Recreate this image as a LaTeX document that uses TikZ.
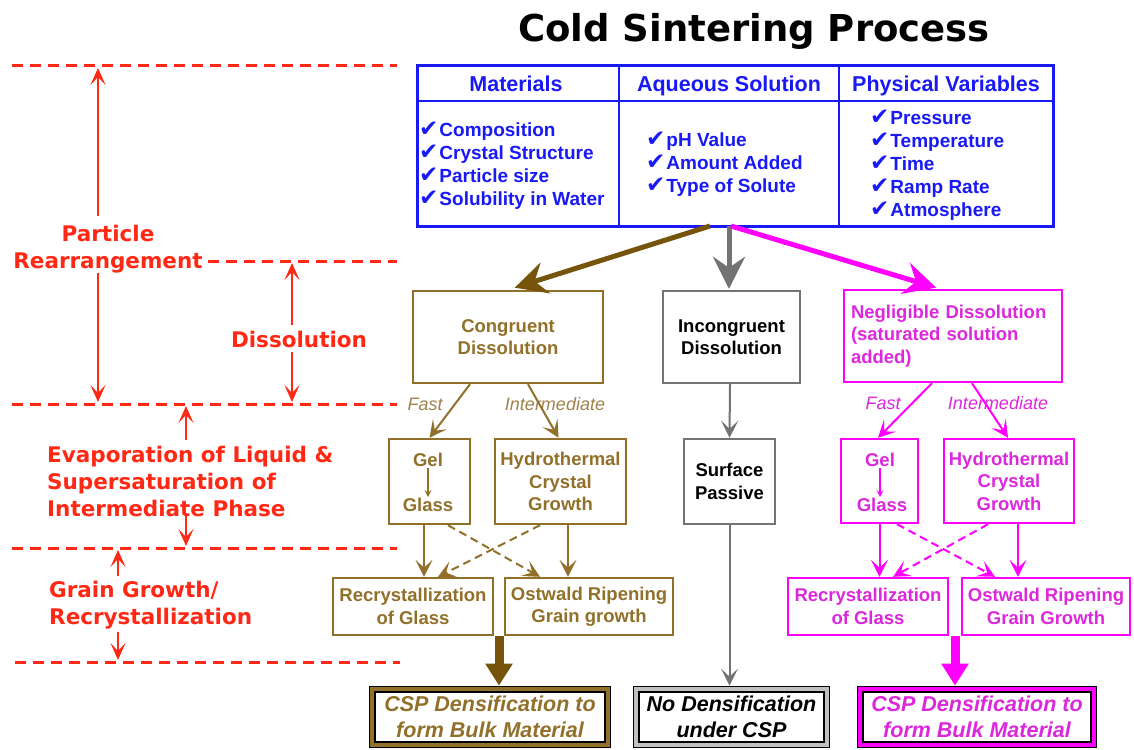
\documentclass[tikz,border=0pt]{standalone}
\usepackage{fontspec}
\setmainfont{Liberation Sans}
\newfontfamily\djv{DejaVu Sans}
\usetikzlibrary{arrows.meta,calc}
\definecolor{brn}{RGB}{145,112,42}
\definecolor{dbrn}{RGB}{118,84,12}
\definecolor{lbrn}{RGB}{160,130,75}
\definecolor{mag}{RGB}{255,0,255}
\definecolor{magt}{RGB}{220,40,220}
\definecolor{gry}{RGB}{115,115,115}
\definecolor{blu}{RGB}{25,25,245}
\definecolor{rd}{RGB}{255,40,20}
\newcommand\ck{{\djv\fontsize{23}{19}\selectfont ✔}\hspace{1pt}}
\begin{document}
\begin{tikzpicture}[x=1pt,y=-1pt,
 rdash/.style={rd, line width=3, dash pattern=on 11pt off 7pt},
 rarr/.style={rd, line width=2, -{Stealth[length=17pt,width=15pt,inset=8pt]}},
 rlab/.style={text=rd, font=\djv\bfseries\fontsize{21.5}{27}\selectfont, inner sep=0},
 fbox/.style={draw=#1, line width=2.4, rectangle, inner sep=0, align=center},
 btxt/.style={font=\bfseries\fontsize{18.5}{22.5}\selectfont},
 farr/.style={#1, line width=2, -{Stealth[length=17pt,width=17pt,inset=8pt]}},
 fdash/.style={#1, line width=2, dash pattern=on 8pt off 5pt, -{Stealth[length=17pt,width=17pt,inset=8pt]}},
 big/.style={#1, line width=5, -{Stealth[length=32pt,width=32pt,inset=11pt]}},
 bigv/.style={#1, line width=9, -{Triangle[length=22pt,width=26pt]}},
 fin/.style={draw=black, double=#1, double distance=4.5pt, line width=1.1, rectangle, inner sep=0, align=center, font=\bfseries\itshape\fontsize{21.5}{26}\selectfont},
 lab/.style={font=\itshape\fontsize{18}{18}\selectfont, inner sep=0, anchor=base},
 hdr/.style={text=blu, font=\bfseries\fontsize{21.5}{21.5}\selectfont, inner sep=0, anchor=base},
 itm/.style={text=blu, font=\bfseries\fontsize{19}{23}\selectfont, inner sep=0, anchor=west, align=left},
]
\useasboundingbox (0,0) rectangle (1134,749);
\fill[white] (0,0) rectangle (1134,749);

% title
\node[font=\djv\bfseries\fontsize{37}{37}\selectfont, anchor=base, inner sep=0] (title) at (754,42) {Cold Sintering Process};

% red dashed level lines
\coordinate (l1a) at (12,66);  \coordinate (l1b) at (397,66);
\coordinate (l2a) at (208,261); \coordinate (l2b) at (397,261);
\coordinate (l3a) at (12,404); \coordinate (l3b) at (397,404);
\coordinate (l4a) at (12,548); \coordinate (l4b) at (397,548);
\coordinate (l5a) at (15,662); \coordinate (l5b) at (400,662);
\foreach \a/\b in {l1a/l1b,l2a/l2b,l3a/l3b,l4a/l4b,l5a/l5b} \draw[rdash] (\a) -- (\b);

% red labels
\node[rlab, align=center] (pr) at (108,249) {Particle\\Rearrangement};
\node[rlab] (dis) at (299,339) {Dissolution};
\node[rlab, align=left, anchor=west] (evap) at (47,481) {Evaporation of Liquid \&\\Supersaturation of\\Intermediate Phase};
\node[rlab, align=left, anchor=west] (grain) at (49,605.5) {Grain Growth/\\Recrystallization};

% red arrows
\coordinate (pa1) at (98,216); \coordinate (pa2) at (98,68);
\coordinate (pb1) at (98,273); \coordinate (pb2) at (98,402);
\coordinate (da1) at (292,325); \coordinate (da2) at (292,263);
\coordinate (db1) at (292,352); \coordinate (db2) at (292,402);
\coordinate (ea1) at (186,440); \coordinate (ea2) at (186,406);
\coordinate (eb1) at (186,514); \coordinate (eb2) at (186,546);
\coordinate (ga1) at (118,576); \coordinate (ga2) at (118,550);
\coordinate (gb1) at (118,632); \coordinate (gb2) at (118,660);
\foreach \a/\b in {pa1/pa2,pb1/pb2,da1/da2,db1/db2,ea1/ea2,eb1/eb2,ga1/ga2,gb1/gb2} \draw[rarr] (\a) -- (\b);

% table
\node[draw=blu, line width=3, minimum width=636, minimum height=161, inner sep=0, anchor=north west] (tab) at (416,64) {};
\draw[blu, line width=2.5] (416,101) -- (1052,101) (619,64) -- (619,225) (839,64) -- (839,225);
\node[hdr] (h1) at (516,91.7) {Materials};
\node[hdr] (h2) at (729,91.7) {Aqueous Solution};
\node[hdr] (h3) at (946,91.7) {Physical Variables};
\node[itm] (i1) at (419,165.5) {\ck Composition\\\ck Crystal Structure\\\ck Particle size\\\ck Solubility in Water};
\node[itm] (i2) at (646,164) {\ck pH Value\\\ck Amount Added\\\ck Type of Solute};
\node[itm] (i3) at (870,165) {\ck Pressure\\\ck Temperature\\\ck Time\\\ck Ramp Rate\\\ck Atmosphere};

% second level boxes
\node[fbox=brn, minimum width=190, minimum height=92, text=brn, btxt] (cong) at (508,337) {Congruent\\Dissolution};
\node[fbox=gry, minimum width=137, minimum height=92, text=black, btxt] (inc) at (731.5,337) {Incongruent\\Dissolution};
\node[fbox=mag, minimum width=218, minimum height=92, text=magt, btxt, text width=204, align=left] (neg) at (953,336) {Negligible Dissolution\\(saturated solution\\added)};

% arrows from table
\coordinate (tb) at (710,226);
\coordinate (tg) at (729,226);
\coordinate (tm) at (731,226);
\draw[big=dbrn, shorten >=7pt] (tb) -- (cong.north);
\draw[big=gry, shorten >=1pt] (tg) -- (tg |- inc.north);
\draw[big=mag, shorten >=4pt] (tm) -- ([xshift=-13pt]neg.north);

% brown column
\node[lab, text=lbrn] (fast1) at (425,410) {Fast};
\node[lab, text=lbrn] (int1) at (555,410) {Intermediate};
\node[fbox=brn, minimum width=81, minimum height=85] (gel1) at (429.5,481.5) {};
\node[btxt, text=brn, anchor=base, inner sep=1] (gel1a) at (428,466.6) {Gel};
\node[btxt, text=brn, anchor=base, inner sep=1] (gel1b) at (428,511.6) {Glass};
\draw[brn, line width=1.2, -{Stealth[length=7pt,width=7pt,inset=3pt]}] (gel1a) -- (gel1b);
\node[fbox=brn, minimum width=131, minimum height=85, text=brn, btxt] (hyd1) at (560.5,481.5) {Hydrothermal\\Crystal\\Growth};
\node[fbox=brn, minimum width=160, minimum height=57, text=brn, btxt] (rec1) at (413,606.5) {Recrystallization\\of Glass};
\node[fbox=brn, minimum width=168, minimum height=57, text=brn, btxt] (ost1) at (589,606.5) {Ostwald Ripening\\Grain growth};
\node[fin=brn, minimum width=235.6, minimum height=55.6, text=brn] (csp1) at (490,717) {CSP Densification to\\form Bulk Material};

\draw[farr=brn] ([xshift=-38pt]cong.south) -- (gel1.north);
\draw[farr=brn] ([xshift=20pt]cong.south) -- ([xshift=-2pt]hyd1.north);
\draw[farr=brn] ([xshift=-5.5pt]gel1.south) -- ([xshift=11pt]rec1.north);
\draw[farr=brn] ([xshift=7.5pt]hyd1.south) -- ([xshift=-21pt]ost1.north);
\draw[fdash=brn] ([xshift=18.5pt]gel1.south) -- ([xshift=-49pt]ost1.north);
\draw[fdash=brn] ([xshift=-20.5pt]hyd1.south) -- ([xshift=25pt]rec1.north);
\coordinate (bb) at ($(rec1.south east)!0.5!(ost1.south west)$);
\draw[bigv=dbrn, shorten >=3pt] (bb) -- (bb |- csp1.north);

% gray column
\node[fbox=gry, minimum width=91, minimum height=85, text=black, btxt] (sp) at (729.5,481.5) {Surface\\Passive};
\node[fin=gry!45, minimum width=190.6, minimum height=55.6, text=black] (nod) at (731.5,717) {No Densification\\under CSP};
\draw[farr=gry] ([xshift=-1.5pt]inc.south) -- (sp.north);
\draw[farr=gry, shorten >=3pt] (sp.south) -- (sp.south |- nod.north);

% magenta column
\node[lab, text=magt] (fast2) at (883,409) {Fast};
\node[lab, text=magt] (int2) at (998,409) {Intermediate};
\node[fbox=mag, minimum width=77, minimum height=84] (gel2) at (879.5,481) {};
\node[btxt, text=magt, anchor=base, inner sep=1] (gel2a) at (880,466.6) {Gel};
\node[btxt, text=magt, anchor=base, inner sep=1] (gel2b) at (882,511.6) {Glass};
\draw[mag, line width=1.2, -{Stealth[length=7pt,width=7pt,inset=3pt]}] (gel2a) -- (gel2a |- gel2b.north);
\node[fbox=mag, minimum width=130, minimum height=84, text=magt, btxt] (hyd2) at (1009,481) {Hydrothermal\\Crystal\\Growth};
\node[fbox=mag, minimum width=160, minimum height=57, text=magt, btxt] (rec2) at (868,606.5) {Recrystallization\\of Glass};
\node[fbox=mag, minimum width=168, minimum height=57, text=magt, btxt] (ost2) at (1046,606.5) {Ostwald Ripening\\Grain Growth};
\node[fin=mag, minimum width=233.6, minimum height=55.6, text=magt] (csp2) at (977,717) {CSP Densification to\\form Bulk Material};

\draw[farr=mag] ([xshift=-21pt]neg.south) -- ([xshift=-1.5pt]gel2.north);
\draw[farr=mag] ([xshift=19pt]neg.south) -- ([xshift=-1pt]hyd2.north);
\draw[farr=mag] (gel2.south) -- ([xshift=11.5pt]rec2.north);
\draw[farr=mag] ([xshift=9pt]hyd2.south) -- ([xshift=-28pt]ost2.north);
\draw[fdash=mag] ([xshift=17.5pt]gel2.south) -- ([xshift=-51pt]ost2.north);
\draw[fdash=mag] ([xshift=-21pt]hyd2.south) -- ([xshift=25pt]rec2.north);
\coordinate (bm) at ($(rec2.south east)!0.5!(ost2.south west)$);
\draw[bigv=mag, shorten >=3pt] (bm) -- (bm |- csp2.north);
\end{tikzpicture}
\end{document}
